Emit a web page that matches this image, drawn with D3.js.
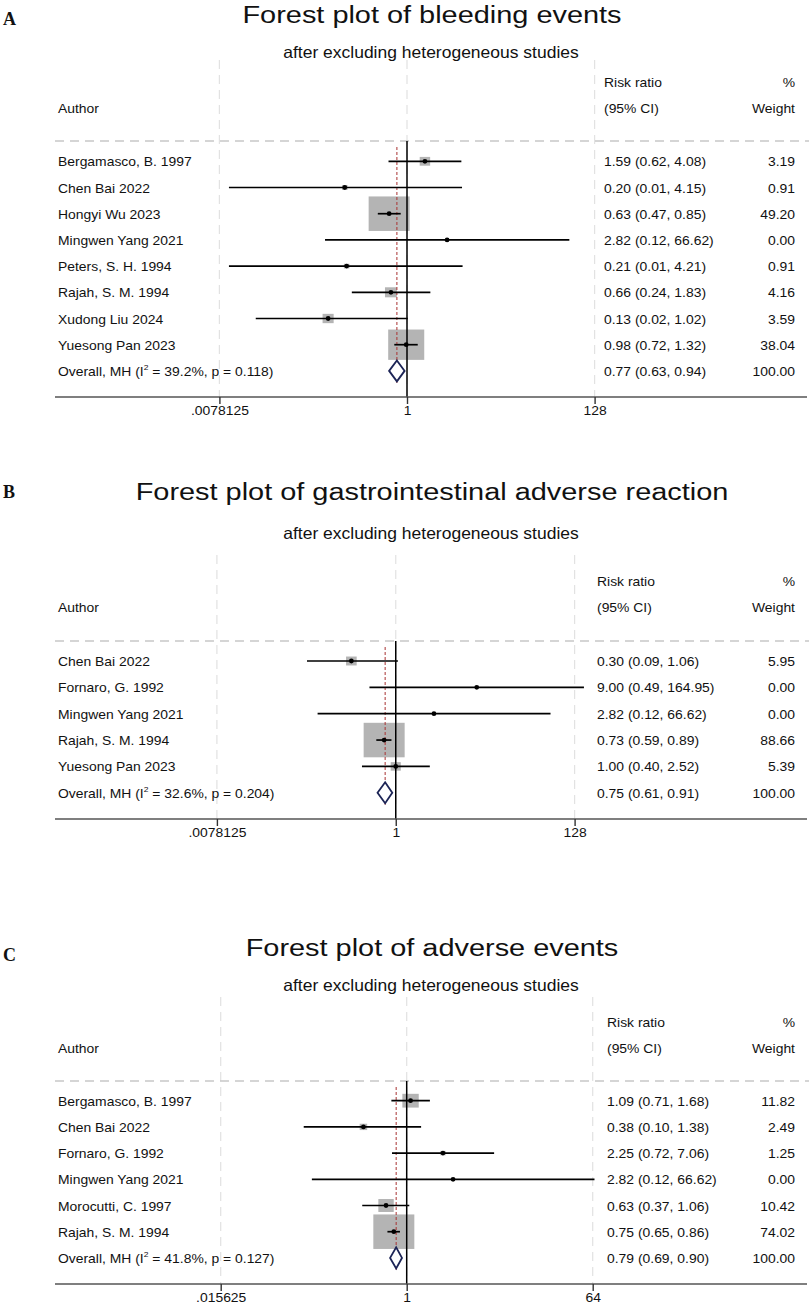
<!DOCTYPE html>
<html>
<head>
<meta charset="utf-8">
<script src="https://cdnjs.cloudflare.com/ajax/libs/d3/7.8.5/d3.min.js"></script>
<style>
  body { margin: 0; background: #fff; }
  svg text { font-family: 'Liberation Sans', Arial, sans-serif; fill: #111; }
  .lab { font-family: 'Liberation Serif', 'Times New Roman', serif !important; font-weight: bold; }
</style>
</head>
<body>
<div id="chart"></div>
<script>
// ---------------- data ----------------
// A: bleeding events
var authorsA = ["Bergamasco, B. 1997", "Chen Bai 2022", "Hongyi Wu 2023", "Mingwen Yang 2021",
                "Peters, S. H. 1994", "Rajah, S. M. 1994", "Xudong Liu 2024", "Yuesong Pan 2023"];
var rrA = [1.59, 0.20, 0.63, 2.82, 0.21, 0.66, 0.13, 0.98];
var loA = [0.62, 0.01, 0.47, 0.12, 0.01, 0.24, 0.02, 0.72];
var hiA = [4.08, 4.15, 0.85, 66.62, 4.21, 1.83, 1.02, 1.32];
var wtA = [3.19, 0.91, 49.20, 0.00, 0.91, 4.16, 3.59, 38.04];
var overallA = [0.77, 0.63, 0.94];
var hetA = ["39.2%", "0.118"];
var ticksA = [Math.pow(2, -7), 1, Math.pow(2, 7)];
var tickLabelsA = [".0078125", "1", "128"];

// B: gastrointestinal adverse reaction
var authorsB = ["Chen Bai 2022", "Fornaro, G. 1992", "Mingwen Yang 2021", "Rajah, S. M. 1994", "Yuesong Pan 2023"];
var rrB = [0.30, 9.00, 2.82, 0.73, 1.00];
var loB = [0.09, 0.49, 0.12, 0.59, 0.40];
var hiB = [1.06, 164.95, 66.62, 0.89, 2.52];
var wtB = [5.95, 0.00, 0.00, 88.66, 5.39];
var overallB = [0.75, 0.61, 0.91];
var hetB = ["32.6%", "0.204"];
var ticksB = [Math.pow(2, -7), 1, Math.pow(2, 7)];
var tickLabelsB = [".0078125", "1", "128"];

// C: adverse events
var authorsC = ["Bergamasco, B. 1997", "Chen Bai 2022", "Fornaro, G. 1992", "Mingwen Yang 2021",
                "Morocutti, C. 1997", "Rajah, S. M. 1994"];
var rrC = [1.09, 0.38, 2.25, 2.82, 0.63, 0.75];
var loC = [0.71, 0.10, 0.72, 0.12, 0.37, 0.65];
var hiC = [1.68, 1.38, 7.06, 66.62, 1.06, 0.86];
var wtC = [11.82, 2.49, 1.25, 0.00, 10.42, 74.02];
var overallC = [0.79, 0.69, 0.90];
var hetC = ["41.8%", "0.127"];
var ticksC = [Math.pow(2, -6), 1, Math.pow(2, 6)];
var tickLabelsC = [".015625", "1", "64"];

var titles = ["Forest plot of bleeding events",
              "Forest plot of gastrointestinal adverse reaction",
              "Forest plot of adverse events"];
var panelLetters = ["A", "B", "C"];

// ---------------- drawing ----------------
var W = 809, H = 1305;
var svg = d3.select("#chart").append("svg")
  .attr("width", W).attr("height", H);

var f2 = d3.format(".2f");
var SX = 1.07;   // the original figure is slightly stretched horizontally

// text helper: placed by transform so it can be widened a little
function txt(g, x, y, s, size, anchor, sx) {
  return g.append("text")
    .attr("transform", "translate(" + x + "," + y + ") scale(" + (sx || SX) + ",1)")
    .attr("text-anchor", anchor || "start")
    .style("font-size", size + "px")
    .text(s);
}

function drawPanel(p) {
  var g = svg.append("g");
  var x = d3.scaleLog().base(2).domain([p.ticks[0], p.ticks[2]]).range(p.xr);
  var n = p.authors.length;
  var rowY = function(i) { return p.row0 + i * p.step; };
  var overallY = rowY(n);
  var wmax = d3.max(p.wt);

  // letter, title, subtitle
  g.append("text").attr("class", "lab").attr("x", 3).attr("y", p.labelY)
    .style("font-size", "18px").text(p.letter);
  txt(g, 432, p.titleY, p.title, 24.5, "middle", 1.18);
  txt(g, 431, p.subY, "after excluding heterogeneous studies", 16.5, "middle", 1.06);

  // vertical grid lines
  g.selectAll(".grid").data(p.ticks).enter().append("line")
    .attr("x1", function(d) { return x(d); }).attr("x2", function(d) { return x(d); })
    .attr("y1", p.gridTop).attr("y2", p.axisY)
    .attr("stroke", "#e2e2e2").attr("stroke-width", 1.2).attr("stroke-dasharray", "9,6");

  // header
  txt(g, 58, p.h2, "Author", 13);
  txt(g, p.rrX, p.h1, "Risk ratio", 13);
  txt(g, p.rrX, p.h2, "(95% CI)", 13);
  txt(g, 795, p.h1, "%", 13, "end");
  txt(g, 795, p.h2, "Weight", 13, "end");

  // dashed separator
  g.append("line").attr("x1", 55).attr("x2", W).attr("y1", p.dashY).attr("y2", p.dashY)
    .attr("stroke", "#c8c8c8").attr("stroke-width", 1.5).attr("stroke-dasharray", "9,6");

  // boxes (area proportional to weight)
  var rows = d3.range(n).map(function(i) {
    return { a: p.authors[i], rr: p.rr[i], lo: p.lo[i], hi: p.hi[i], w: p.wt[i], y: rowY(i) };
  });
  var boxW = function(d) { return 41 * Math.sqrt(d.w / wmax); };
  var boxH = function(d) { return 34.5 * Math.sqrt(d.w / wmax); };
  g.selectAll(".box").data(rows.filter(function(d) { return d.w > 0; })).enter().append("rect")
    .attr("x", function(d) { return x(d.rr) - boxW(d) / 2; })
    .attr("y", function(d) { return d.y - boxH(d) / 2; })
    .attr("width", boxW).attr("height", boxH)
    .attr("fill", "#b4b4b4");

  // null line
  g.append("line").attr("x1", x(1)).attr("x2", x(1)).attr("y1", p.dashY).attr("y2", p.axisY)
    .attr("stroke", "#000").attr("stroke-width", 1.5);

  // overall effect line
  g.append("line").attr("x1", x(p.overall[0])).attr("x2", x(p.overall[0]))
    .attr("y1", p.dashY + 6).attr("y2", overallY + 12)
    .attr("stroke", "#a83232").attr("stroke-width", 1).attr("stroke-dasharray", "3,2");

  // CI lines and points
  g.selectAll(".ci").data(rows).enter().append("line")
    .attr("x1", function(d) { return x(d.lo); }).attr("x2", function(d) { return x(d.hi); })
    .attr("y1", function(d) { return d.y; }).attr("y2", function(d) { return d.y; })
    .attr("stroke", "#000").attr("stroke-width", 1.7);
  g.selectAll(".pt").data(rows).enter().append("circle")
    .attr("cx", function(d) { return x(d.rr); }).attr("cy", function(d) { return d.y; })
    .attr("r", 2.4).attr("fill", "#000");

  // overall diamond
  var o = p.overall;
  g.append("path")
    .attr("d", "M" + x(o[1]) + "," + overallY + "L" + x(o[0]) + "," + (overallY - 10.5) +
               "L" + x(o[2]) + "," + overallY + "L" + x(o[0]) + "," + (overallY + 10.5) + "Z")
    .attr("fill", "#fff").attr("stroke", "#1c2456").attr("stroke-width", 1.8);

  // row texts
  rows.forEach(function(d) {
    txt(g, 58, d.y + 5, d.a, 13);
    txt(g, p.rrX, d.y + 5, f2(d.rr) + " (" + f2(d.lo) + ", " + f2(d.hi) + ")", 13);
    txt(g, 795, d.y + 5, f2(d.w), 13, "end");
  });

  // overall row texts
  var ot = txt(g, 58, overallY + 5, "", 13);
  ot.append("tspan").text("Overall, MH (I");
  ot.append("tspan").attr("dy", -6).style("font-size", "8px").text("2");
  ot.append("tspan").attr("dy", 6).text(" = " + p.het[0] + ", p = " + p.het[1] + ")");
  txt(g, p.rrX, overallY + 5, f2(o[0]) + " (" + f2(o[1]) + ", " + f2(o[2]) + ")", 13);
  txt(g, 795, overallY + 5, f2(100), 13, "end");

  // axis
  g.append("line").attr("x1", 55).attr("x2", 807).attr("y1", p.axisY).attr("y2", p.axisY)
    .attr("stroke", "#555").attr("stroke-width", 1.6);
  var ax = g.append("g").attr("transform", "translate(0," + p.axisY + ")")
    .call(d3.axisBottom(x).tickValues(p.ticks).tickSize(7)
      .tickFormat(function(d, i) { return p.tickLabels[i]; }));
  ax.select(".domain").remove();
  ax.selectAll(".tick line").attr("stroke", "#333").attr("stroke-width", 1.4);
  ax.selectAll(".tick text").attr("y", 0).attr("dy", null)
    .attr("transform", "translate(0," + (p.tickY - p.axisY) + ") scale(" + SX + ",1)")
    .style("font-size", "13px").style("font-family", "'Liberation Sans', Arial, sans-serif")
    .attr("fill", "#111");
}

drawPanel({
  letter: panelLetters[0], title: titles[0],
  authors: authorsA, rr: rrA, lo: loA, hi: hiA, wt: wtA, overall: overallA, het: hetA,
  ticks: ticksA, tickLabels: tickLabelsA, xr: [219.4, 594.6],
  labelY: 25, titleY: 23, subY: 58, gridTop: 60, h1: 86.7, h2: 113, dashY: 141,
  row0: 161.3, step: 26.2, axisY: 397, tickY: 415, rrX: 604
});
drawPanel({
  letter: panelLetters[1], title: titles[1],
  authors: authorsB, rr: rrB, lo: loB, hi: hiB, wt: wtB, overall: overallB, het: hetB,
  ticks: ticksB, tickLabels: tickLabelsB, xr: [216.9, 574.6],
  labelY: 498, titleY: 500, subY: 539, gridTop: 555, h1: 585.7, h2: 611.7, dashY: 641,
  row0: 661, step: 26.35, axisY: 819, tickY: 836.5, rrX: 597
});
drawPanel({
  letter: panelLetters[2], title: titles[2],
  authors: authorsC, rr: rrC, lo: loC, hi: hiC, wt: wtC, overall: overallC, het: hetC,
  ticks: ticksC, tickLabels: tickLabelsC, xr: [220.7, 592.7],
  labelY: 961, titleY: 956, subY: 990.7, gridTop: 997, h1: 1026.7, h2: 1052.7, dashY: 1081,
  row0: 1100.7, step: 26.2, axisY: 1284, tickY: 1301.5, rrX: 607
});
</script>
</body>
</html>
